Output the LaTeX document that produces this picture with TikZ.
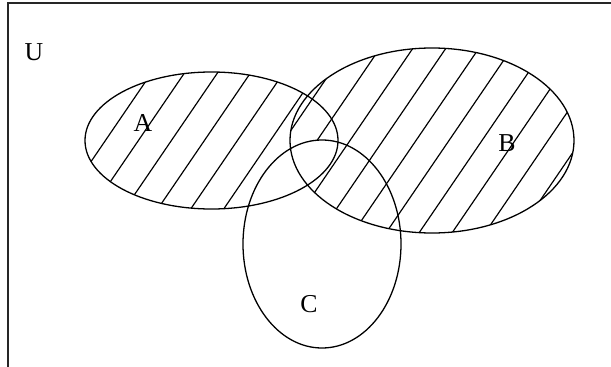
\documentclass[tikz,border=0pt]{standalone}
\usepackage{fontspec}
\setmainfont{Liberation Serif}
\usepackage{tikz}

\def\regionA{(211.5,140.5) ellipse (126.5 and 68.5)}
\def\regionB{(432,140.5) ellipse (142 and 92.5)}
\def\regionC{(322,244) ellipse (79 and 104)}

\begin{document}
\begin{tikzpicture}[x=0.03cm, y=-0.03cm,
  border/.style={line width=1.6pt, black!85},
  setline/.style={line width=1.1pt},
  hatch/.style={line width=1pt},
  lbl/.style={font=\fontsize{22}{26}\selectfont, inner sep=0pt}]

\useasboundingbox (0,0) rectangle (611,367);
\draw[border] (611,3) -- (8,3) -- (8,367);

% hatching of B
\begin{scope}
  \clip \regionB;
  \foreach \k in {6,...,20}
    \draw[hatch] ({6.3+33*\k-150},429) -- ({6.3+33*\k+150},-11);
\end{scope}

% hatching of A outside B
\begin{scope}[even odd rule]
  \clip \regionA;
  \clip (-20,-20) rectangle (640,400) \regionB;
  \foreach \k in {-1,...,12}
    \draw[hatch] ({25.7+33*\k-150},429) -- ({25.7+33*\k+150},-11);
\end{scope}

% A and C overlap left blank
\begin{scope}
  \clip \regionA;
  \fill[white] \regionC;
\end{scope}

\draw[setline] \regionA;
\draw[setline] \regionB;
\draw[setline] \regionC;

\node[lbl] (U) at (34,52) {U};
\node[lbl] (A) at (143,123) {A};
\node[lbl] (B) at (507,143) {B};
\node[lbl] (C) at (309,304) {C};

\end{tikzpicture}
\end{document}
